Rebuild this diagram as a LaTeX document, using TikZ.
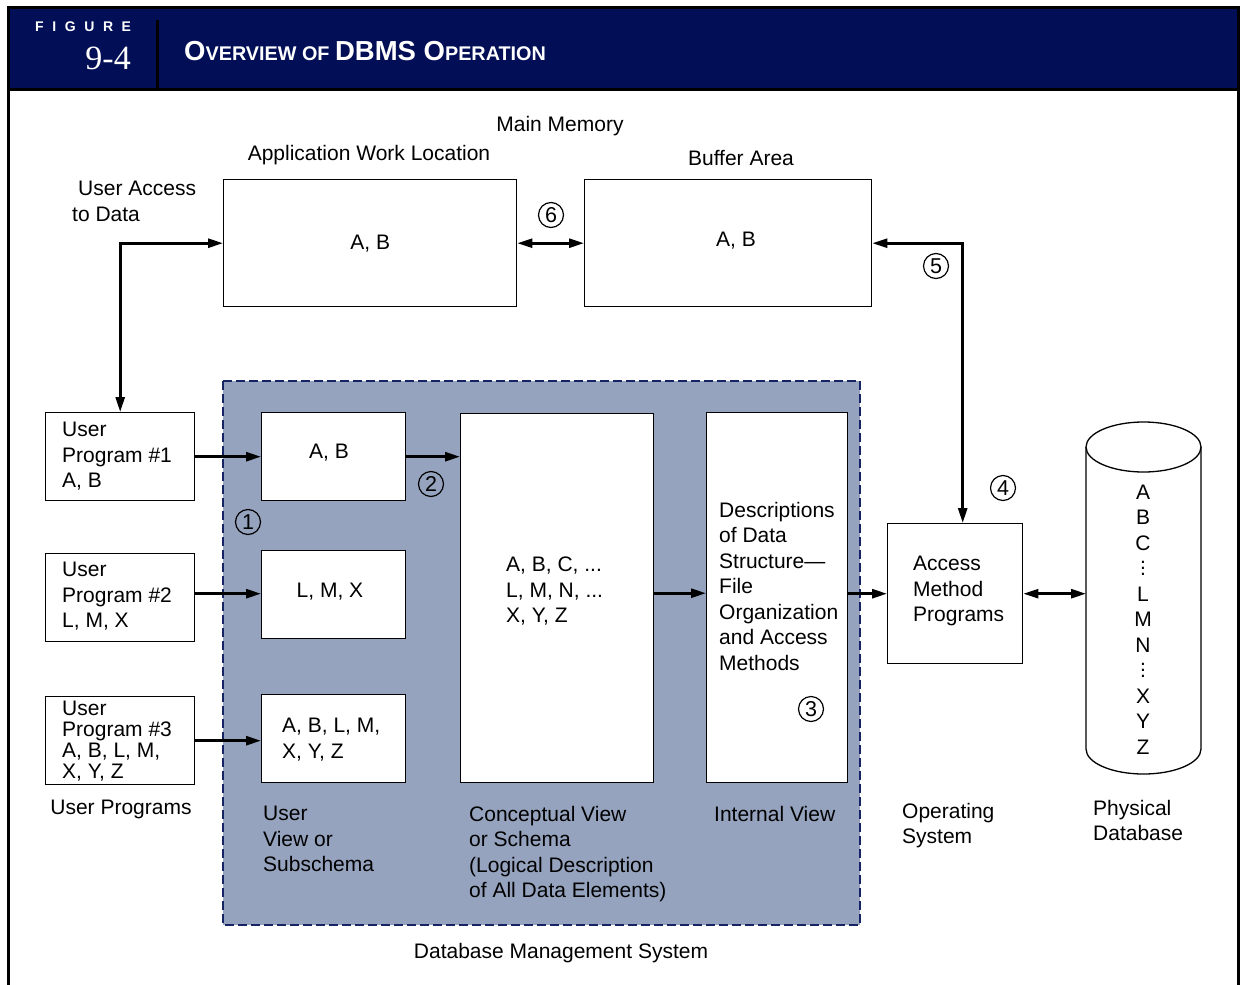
\documentclass[tikz,border=0pt]{standalone}
\usepackage{fontspec}
\setmainfont{Liberation Sans}
\newfontfamily\serifnum{Liberation Serif}
\usetikzlibrary{arrows.meta}
\definecolor{navy}{RGB}{2,14,85}
\definecolor{dbfill}{RGB}{149,163,190}
\definecolor{dashc}{RGB}{22,36,102}
\newcommand\myvdots{\vbox{\baselineskip6pt\lineskiplimit0pt\hbox{.}\hbox{.}\hbox{.}}}
\tikzset{
  box/.style={draw, line width=1.4pt, fill=white, inner sep=0pt, anchor=north west,
              font=\fontsize{21}{25.5}\selectfont},
  txt/.style={inner sep=0pt, align=left, anchor=north west, font=\fontsize{21}{25.5}\selectfont},
  lbl/.style={inner sep=0pt, font=\fontsize{21}{25.5}\selectfont},
  arr/.style={line width=2.6pt, -{Triangle[length=15pt,width=9pt]}},
  darr/.style={line width=2.6pt, {Triangle[length=15pt,width=9pt]}-{Triangle[length=15pt,width=9pt]}},
  num/.style={circle, draw, line width=1.2pt, minimum size=25pt, inner sep=0pt,
              font=\fontsize{21.5}{21.5}\selectfont}
}
\begin{document}
\begin{tikzpicture}[x=1pt,y=-1pt]
\useasboundingbox (0,0) rectangle (1242,985);
% header and frame
\fill[navy] (8,7) rectangle (1238,89);
\draw[line width=3pt] (8,985) -- (8,7) -- (1238,7) -- (1238,985);
\draw[line width=3pt] (8,89.5) -- (1238,89.5);
\draw[line width=3pt] (157,20) -- (157,89);
\node[anchor=base west, inner sep=0pt, text=white, font=\bfseries\fontsize{14}{14}\selectfont] (fig) at (35,31)
  {F\kern8.6pt I\kern8.6pt G\kern8.6pt U\kern8.6pt R\kern8.6pt E};
\node[anchor=base east, inner sep=0pt, text=white, font=\serifnum\fontsize{34}{34}\selectfont] (fnum) at (131,69) {9-4};
\node[anchor=base west, inner sep=0pt, text=white, font=\bfseries] (title) at (184,60)
  {\fontsize{27.5}{27.5}\selectfont O\fontsize{19.8}{19.8}\selectfont VERVIEW OF \fontsize{27.5}{27.5}\selectfont DBMS O\fontsize{19.8}{19.8}\selectfont PERATION};

% DBMS region
\draw[dashc, line width=1.3pt, dash pattern=on 9pt off 4pt, fill=dbfill] (223,381) rectangle (860,925);

% top labels
\node[lbl] (mm) at (560,126) {Main Memory};
\node[lbl] (awl) at (369,155) {Application Work Location};
\node[lbl] (bal) at (741,158) {Buffer Area};
\node[txt] (uad) at (72,181) {\hspace*{6pt}User Access\\to Data};

% boxes
\node[box, minimum width=293pt, minimum height=127pt] (app) at (223,179) {A, B};
\node[box, minimum width=287pt, minimum height=127pt] (buf) at (584,179) {};
\node[lbl] (buft) at (736,241) {A, B};

\node[box, minimum width=149pt, minimum height=88pt] (up1) at (45,412) {};
\node[box, minimum width=149pt, minimum height=88pt] (up2) at (45,553) {};
\node[box, minimum width=149pt, minimum height=88pt] (up3) at (45,696) {};
\node[txt] (up1t) at (62,422) {User\\Program \#1\\A, B};
\node[txt] (up2t) at (62,562) {User\\Program \#2\\L, M, X};
\node[txt, font=\fontsize{21}{21}\selectfont] (up3t) at (62,701) {User\\Program \#3\\A, B, L, M,\\X, Y, Z};
\node[lbl] (upl) at (121,809) {User Programs};

\node[box, minimum width=144pt, minimum height=88pt] (ab) at (261,412) {};
\node[lbl] (abt) at (329,453) {A, B};
\node[box, minimum width=144pt, minimum height=88pt] (lmx) at (261,550) {};
\node[lbl] (lmxt) at (330,592) {L, M, X};
\node[box, minimum width=144pt, minimum height=88pt] (ablm) at (261,694) {};
\node[txt] (ablmt) at (282,718) {A, B, L, M,\\X, Y, Z};

\node[box, minimum width=193pt, minimum height=369pt] (con) at (460,413) {};
\node[txt] (cont) at (506,557) {A, B, C, ...\\L, M, N, ...\\X, Y, Z};
\node[box, minimum width=141pt, minimum height=370pt] (int) at (706,412) {};
\node[txt] (intt) at (719,502) {Descriptions\\of Data\\Structure—\\File\\Organization\\and Access\\Methods};
\node[box, minimum width=135pt, minimum height=140pt] (acc) at (887,523) {};
\node[txt] (acct) at (913,556) {Access\\Method\\Programs};

% cylinder
\node[inner sep=0pt, minimum width=115pt, minimum height=352pt, anchor=north west] (db) at (1086,422) {};
\draw[line width=1.3pt, fill=white] (1086,447) -- (1086,749) arc[start angle=180, end angle=360, x radius=57.5pt, y radius=25pt] -- (1201,447);
\draw[line width=1.3pt, fill=white] (1143.5,447) ellipse [x radius=57.5pt, y radius=25pt];
\node[inner sep=0pt, anchor=north, align=center, font=\fontsize{21}{25.5}\selectfont] (dbt) at (1143,484.5)
  {A\\B\\C\\\myvdots\\L\\M\\N\\\myvdots\\X\\Y\\Z};

% bottom labels
\node[txt] (uvl) at (263,806) {User\\View or\\Subschema};
\node[txt] (cvl) at (469,806) {Conceptual View\\or Schema\\(Logical Description\\of All Data Elements)};
\node[txt] (ivl) at (714,806) {Internal View};
\node[txt] (osl) at (902,803) {Operating\\System};
\node[txt] (pdl) at (1093,800) {Physical\\Database};
\node[lbl] (dbms) at (561,953) {Database Management System};

% connectors
\draw[darr] (up1.north) |- (app.west);
\draw[darr] (app.east) -- (buf.west);
\draw[darr] (buf.east) -| ([xshift=7.5pt]acc.north);
\draw[arr] (up1.east) -- (ab.west);
\draw[arr] ([yshift=4pt]up2.east) -- ([yshift=4pt]up2.east -| lmx.west);
\draw[arr] (up3.east) -- (up3.east -| ablm.west);
\draw[arr] (ab.east) -- (ab.east -| con.west);
\draw[arr] ([yshift=5pt]con.east) -- ([yshift=5pt]con.east -| int.west);
\draw[arr] (int.east |- acc.west) -- (acc.west);
\draw[darr] (acc.east) -- (acc.east -| db.west);

% circled numbers
\node[num] (n1) at (248,522) {1};
\node[num] (n2) at (431,484) {2};
\node[num] (n3) at (811,709) {3};
\node[num] (n4) at (1003,488) {4};
\node[num] (n5) at (936,266) {5};
\node[num] (n6) at (551,215) {6};
\end{tikzpicture}
\end{document}
